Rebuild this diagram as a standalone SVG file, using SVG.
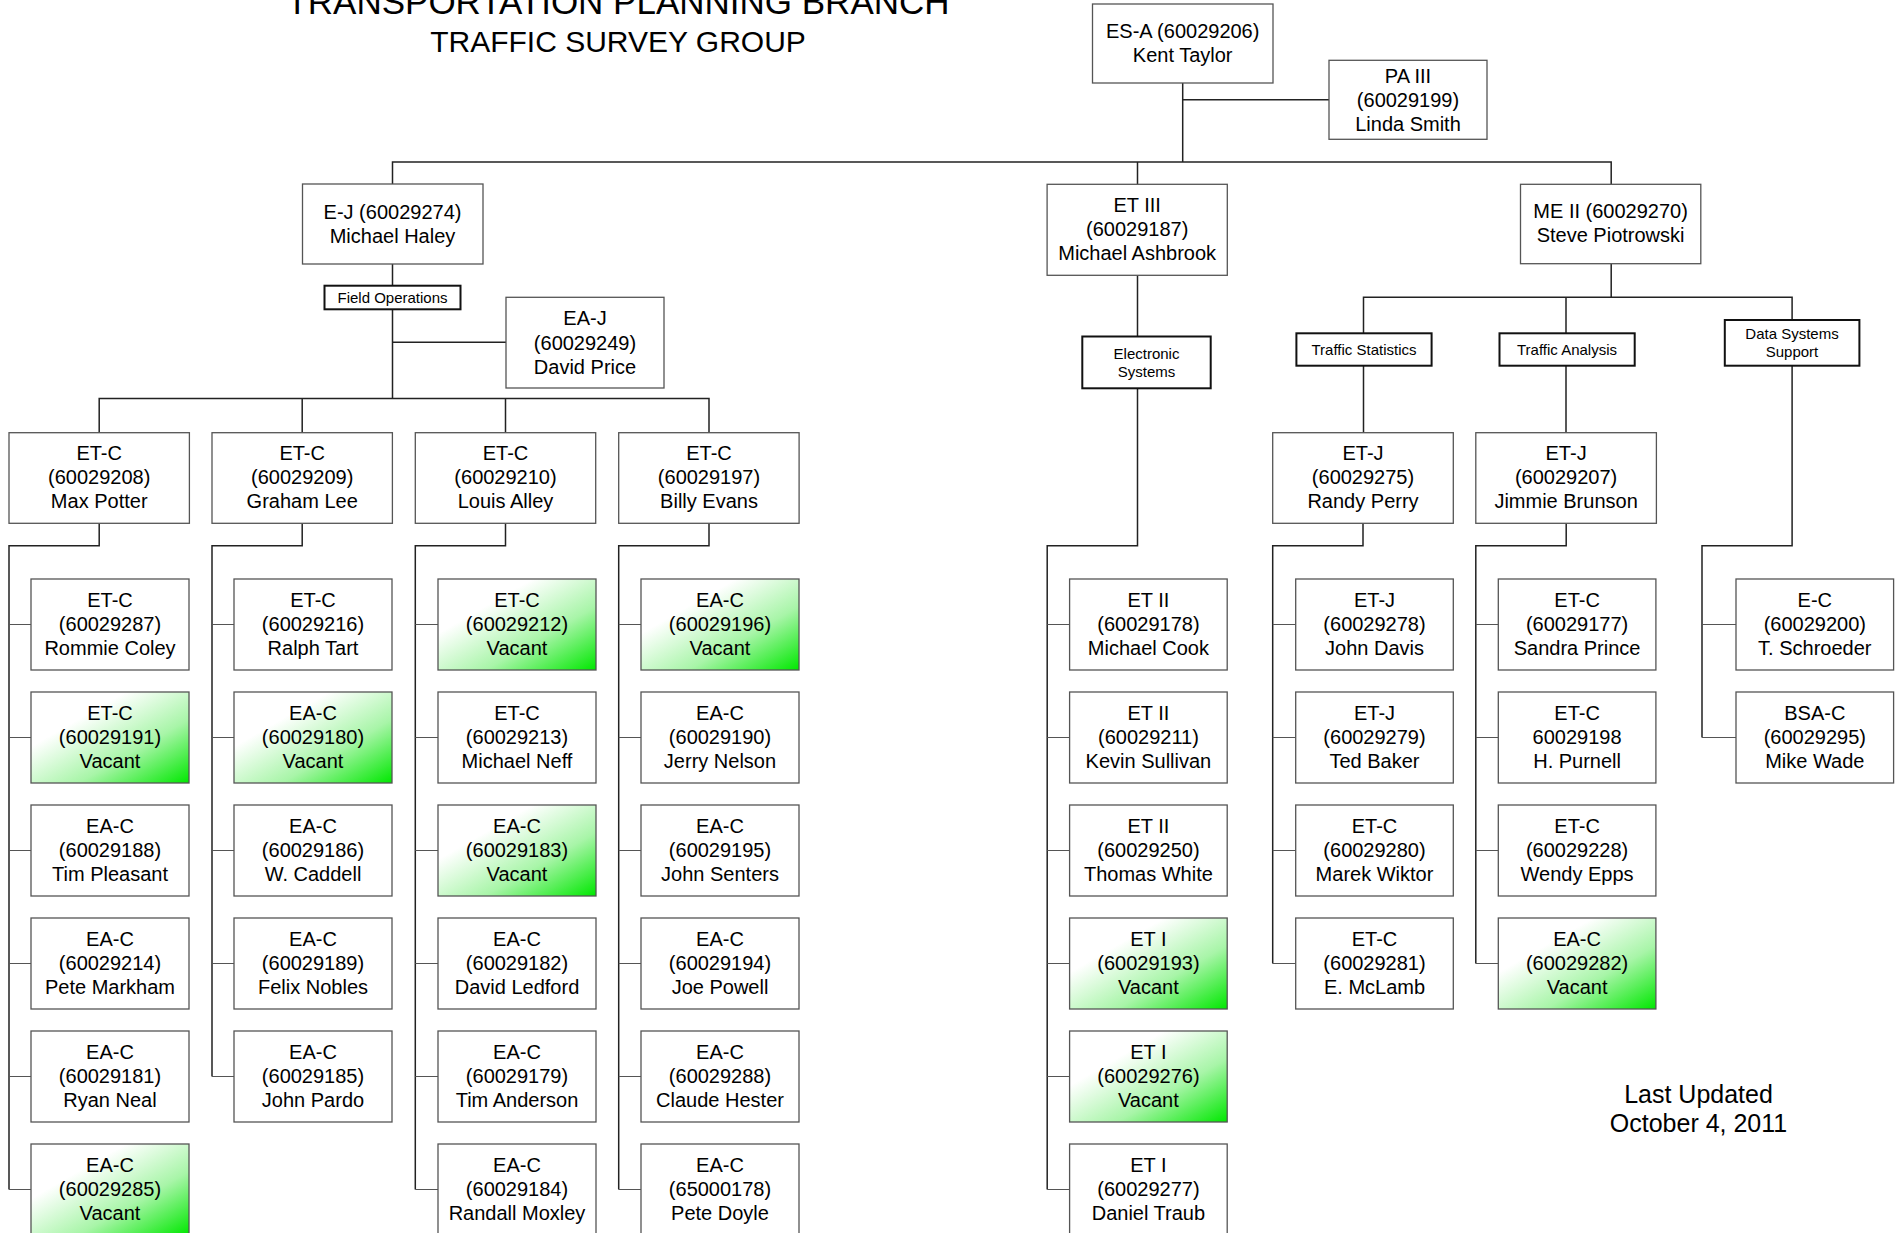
<svg xmlns="http://www.w3.org/2000/svg" width="1902" height="1233" viewBox="0 0 1902 1233">
<defs>
<linearGradient id="g" x1="0" y1="0" x2="1" y2="1">
<stop offset="0" stop-color="#ffffff"/>
<stop offset="0.3" stop-color="#ffffff"/>
<stop offset="0.65" stop-color="#a8f5a8"/>
<stop offset="1" stop-color="#00e800"/>
</linearGradient>
</defs>
<style>
text{font-family:"Liberation Sans",Arial,sans-serif;font-size:20px;text-anchor:middle;fill:#000}
.sm{font-size:15px}
.b{fill:#fff;stroke:#555;stroke-width:1.3}
.v{fill:url(#g);stroke:#555;stroke-width:1.3}
.h{fill:#fff;stroke:#111;stroke-width:2}
.c{fill:none;stroke:#222;stroke-width:1.5}
.t{fill:none;stroke:#555;stroke-width:1.2}
</style>
<rect width="1902" height="1233" fill="#fff"/>
<g id="title">
<text x="618" y="14" style="font-size:35px">TRANSPORTATION PLANNING BRANCH</text>
<text x="618" y="52" style="font-size:30px">TRAFFIC SURVEY GROUP</text>
</g>
<g id="connectors">
<path class="c" d="M1182.7 83V162M392.5 184V162H1611.2V184.3M1137.5 162V184.3"/>
<path class="c" d="M1182.7 99.7H1329"/>
<path class="c" d="M392.5 264V285.7M392.5 309.3V398.5M392.5 342.3H506"/>
<path class="c" d="M99.2 432.7V398.5H709V432.7M302.2 398.5V432.7M505.5 398.5V432.7"/>
<path class="c" d="M99.2 523.3V545.7H9V1189.5"/>
<path class="t" d="M9 624.5H31M9 737.5H31M9 850.5H31M9 963.5H31M9 1076.5H31M9 1189.5H31"/>
<path class="c" d="M302.2 523.3V545.7H212V1076.5"/>
<path class="t" d="M212 624.5H234M212 737.5H234M212 850.5H234M212 963.5H234M212 1076.5H234"/>
<path class="c" d="M505.5 523.3V545.7H415.3V1189.5"/>
<path class="t" d="M415.3 624.5H438M415.3 737.5H438M415.3 850.5H438M415.3 963.5H438M415.3 1076.5H438M415.3 1189.5H438"/>
<path class="c" d="M709 523.3V545.7H618.7V1189.5"/>
<path class="t" d="M618.7 624.5H641M618.7 737.5H641M618.7 850.5H641M618.7 963.5H641M618.7 1076.5H641M618.7 1189.5H641"/>
<path class="c" d="M1137.5 275.3V336.7M1137.5 388.3V545.7H1047.2V1189.5"/>
<path class="t" d="M1047.2 624.5H1069.6M1047.2 737.5H1069.6M1047.2 850.5H1069.6M1047.2 963.5H1069.6M1047.2 1076.5H1069.6M1047.2 1189.5H1069.6"/>
<path class="c" d="M1611.2 263.7V297.3M1363.5 333.3V297.3H1792.1V320M1566 297.3V333.3"/>
<path class="c" d="M1363.5 365.7V432.7M1566 365.7V432.7"/>
<path class="c" d="M1363 523.3V545.7H1272.7V963.5"/>
<path class="t" d="M1272.7 624.5H1295.7M1272.7 737.5H1295.7M1272.7 850.5H1295.7M1272.7 963.5H1295.7"/>
<path class="c" d="M1566.2 523.3V545.7H1475.8V963.5"/>
<path class="t" d="M1475.8 624.5H1498.3M1475.8 737.5H1498.3M1475.8 850.5H1498.3M1475.8 963.5H1498.3"/>
<path class="c" d="M1792.1 365.7V545.7H1702V737.5"/>
<path class="t" d="M1702 624.5H1736M1702 737.5H1736"/>
</g>
<g id="n-esa"><rect class="b" x="1092.5" y="4" width="180.5" height="79"/><text x="1182.7" y="38">ES-A (60029206)</text><text x="1182.7" y="61.5">Kent Taylor</text></g>
<g id="n-pa3"><rect class="b" x="1329" y="60.3" width="158" height="79"/><text x="1408" y="82.5">PA III</text><text x="1408" y="106.5">(60029199)</text><text x="1408" y="130.5">Linda Smith</text></g>
<g id="n-ej"><rect class="b" x="302.5" y="184" width="180.5" height="80"/><text x="392.5" y="218.5">E-J (60029274)</text><text x="392.5" y="242.5">Michael Haley</text></g>
<g id="n-et3"><rect class="b" x="1047.1" y="184.3" width="180.2" height="91"/><text x="1137.2" y="212">ET III</text><text x="1137.2" y="236">(60029187)</text><text x="1137.2" y="260">Michael Ashbrook</text></g>
<g id="n-me2"><rect class="b" x="1520.5" y="184.3" width="180.3" height="79.4"/><text x="1610.6" y="218">ME II (60029270)</text><text x="1610.6" y="242">Steve Piotrowski</text></g>
<g id="n-fieldops"><rect class="h" x="324.5" y="285.7" width="136" height="23.6"/><text class="sm" x="392.5" y="303">Field Operations</text></g>
<g id="n-eaj"><rect class="b" x="506" y="297.3" width="158" height="90.7"/><text x="585" y="325">EA-J</text><text x="585" y="349.5">(60029249)</text><text x="585" y="374">David Price</text></g>
<g id="n-elec"><rect class="h" x="1082.3" y="336.5" width="128.4" height="51.8"/><text class="sm" x="1146.5" y="358.5">Electronic</text><text class="sm" x="1146.5" y="376.5">Systems</text></g>
<g id="n-tstat"><rect class="h" x="1296.4" y="333.3" width="135.2" height="32.4"/><text class="sm" x="1364" y="354.5">Traffic Statistics</text></g>
<g id="n-tana"><rect class="h" x="1499.5" y="333.3" width="135.2" height="32.4"/><text class="sm" x="1567" y="354.5">Traffic Analysis</text></g>
<g id="n-dss"><rect class="h" x="1724.8" y="320" width="134.6" height="45.7"/><text class="sm" x="1792" y="338.5">Data Systems</text><text class="sm" x="1792" y="356.5">Support</text></g>
<g id="n-etc208"><rect class="b" x="9" y="432.7" width="180.4" height="90.6"/><text x="99.2" y="459.5">ET-C</text><text x="99.2" y="483.5">(60029208)</text><text x="99.2" y="508">Max Potter</text></g>
<g id="n-etc209"><rect class="b" x="212" y="432.7" width="180.4" height="90.6"/><text x="302.2" y="459.5">ET-C</text><text x="302.2" y="483.5">(60029209)</text><text x="302.2" y="508">Graham Lee</text></g>
<g id="n-etc210"><rect class="b" x="415.3" y="432.7" width="180.4" height="90.6"/><text x="505.5" y="459.5">ET-C</text><text x="505.5" y="483.5">(60029210)</text><text x="505.5" y="508">Louis Alley</text></g>
<g id="n-etc197"><rect class="b" x="618.7" y="432.7" width="180.4" height="90.6"/><text x="709" y="459.5">ET-C</text><text x="709" y="483.5">(60029197)</text><text x="709" y="508">Billy Evans</text></g>
<g id="n-etj275"><rect class="b" x="1272.7" y="432.7" width="180.6" height="90.6"/><text x="1363" y="459.5">ET-J</text><text x="1363" y="483.5">(60029275)</text><text x="1363" y="508">Randy Perry</text></g>
<g id="n-etj207"><rect class="b" x="1475.8" y="432.7" width="180.6" height="90.6"/><text x="1566.1" y="459.5">ET-J</text><text x="1566.1" y="483.5">(60029207)</text><text x="1566.1" y="508">Jimmie Brunson</text></g>
<g id="c1-0"><rect class="b" x="31" y="579" width="158" height="91"/><text x="110" y="607">ET-C</text><text x="110" y="631">(60029287)</text><text x="110" y="655">Rommie Coley</text></g>
<g id="c1-1"><rect class="v" x="31" y="692" width="158" height="91"/><text x="110" y="720">ET-C</text><text x="110" y="744">(60029191)</text><text x="110" y="768">Vacant</text></g>
<g id="c1-2"><rect class="b" x="31" y="805" width="158" height="91"/><text x="110" y="833">EA-C</text><text x="110" y="857">(60029188)</text><text x="110" y="881">Tim Pleasant</text></g>
<g id="c1-3"><rect class="b" x="31" y="918" width="158" height="91"/><text x="110" y="946">EA-C</text><text x="110" y="970">(60029214)</text><text x="110" y="994">Pete Markham</text></g>
<g id="c1-4"><rect class="b" x="31" y="1031" width="158" height="91"/><text x="110" y="1059">EA-C</text><text x="110" y="1083">(60029181)</text><text x="110" y="1107">Ryan Neal</text></g>
<g id="c1-5"><rect class="v" x="31" y="1144" width="158" height="91"/><text x="110" y="1172">EA-C</text><text x="110" y="1196">(60029285)</text><text x="110" y="1220">Vacant</text></g>
<g id="c2-0"><rect class="b" x="234" y="579" width="158" height="91"/><text x="313" y="607">ET-C</text><text x="313" y="631">(60029216)</text><text x="313" y="655">Ralph Tart</text></g>
<g id="c2-1"><rect class="v" x="234" y="692" width="158" height="91"/><text x="313" y="720">EA-C</text><text x="313" y="744">(60029180)</text><text x="313" y="768">Vacant</text></g>
<g id="c2-2"><rect class="b" x="234" y="805" width="158" height="91"/><text x="313" y="833">EA-C</text><text x="313" y="857">(60029186)</text><text x="313" y="881">W. Caddell</text></g>
<g id="c2-3"><rect class="b" x="234" y="918" width="158" height="91"/><text x="313" y="946">EA-C</text><text x="313" y="970">(60029189)</text><text x="313" y="994">Felix Nobles</text></g>
<g id="c2-4"><rect class="b" x="234" y="1031" width="158" height="91"/><text x="313" y="1059">EA-C</text><text x="313" y="1083">(60029185)</text><text x="313" y="1107">John Pardo</text></g>
<g id="c3-0"><rect class="v" x="438" y="579" width="158" height="91"/><text x="517" y="607">ET-C</text><text x="517" y="631">(60029212)</text><text x="517" y="655">Vacant</text></g>
<g id="c3-1"><rect class="b" x="438" y="692" width="158" height="91"/><text x="517" y="720">ET-C</text><text x="517" y="744">(60029213)</text><text x="517" y="768">Michael Neff</text></g>
<g id="c3-2"><rect class="v" x="438" y="805" width="158" height="91"/><text x="517" y="833">EA-C</text><text x="517" y="857">(60029183)</text><text x="517" y="881">Vacant</text></g>
<g id="c3-3"><rect class="b" x="438" y="918" width="158" height="91"/><text x="517" y="946">EA-C</text><text x="517" y="970">(60029182)</text><text x="517" y="994">David Ledford</text></g>
<g id="c3-4"><rect class="b" x="438" y="1031" width="158" height="91"/><text x="517" y="1059">EA-C</text><text x="517" y="1083">(60029179)</text><text x="517" y="1107">Tim Anderson</text></g>
<g id="c3-5"><rect class="b" x="438" y="1144" width="158" height="91"/><text x="517" y="1172">EA-C</text><text x="517" y="1196">(60029184)</text><text x="517" y="1220">Randall Moxley</text></g>
<g id="c4-0"><rect class="v" x="641" y="579" width="158" height="91"/><text x="720" y="607">EA-C</text><text x="720" y="631">(60029196)</text><text x="720" y="655">Vacant</text></g>
<g id="c4-1"><rect class="b" x="641" y="692" width="158" height="91"/><text x="720" y="720">EA-C</text><text x="720" y="744">(60029190)</text><text x="720" y="768">Jerry Nelson</text></g>
<g id="c4-2"><rect class="b" x="641" y="805" width="158" height="91"/><text x="720" y="833">EA-C</text><text x="720" y="857">(60029195)</text><text x="720" y="881">John Senters</text></g>
<g id="c4-3"><rect class="b" x="641" y="918" width="158" height="91"/><text x="720" y="946">EA-C</text><text x="720" y="970">(60029194)</text><text x="720" y="994">Joe Powell</text></g>
<g id="c4-4"><rect class="b" x="641" y="1031" width="158" height="91"/><text x="720" y="1059">EA-C</text><text x="720" y="1083">(60029288)</text><text x="720" y="1107">Claude Hester</text></g>
<g id="c4-5"><rect class="b" x="641" y="1144" width="158" height="91"/><text x="720" y="1172">EA-C</text><text x="720" y="1196">(65000178)</text><text x="720" y="1220">Pete Doyle</text></g>
<g id="c5-0"><rect class="b" x="1069.6" y="579" width="157.6" height="91"/><text x="1148.4" y="607">ET II</text><text x="1148.4" y="631">(60029178)</text><text x="1148.4" y="655">Michael Cook</text></g>
<g id="c5-1"><rect class="b" x="1069.6" y="692" width="157.6" height="91"/><text x="1148.4" y="720">ET II</text><text x="1148.4" y="744">(60029211)</text><text x="1148.4" y="768">Kevin Sullivan</text></g>
<g id="c5-2"><rect class="b" x="1069.6" y="805" width="157.6" height="91"/><text x="1148.4" y="833">ET II</text><text x="1148.4" y="857">(60029250)</text><text x="1148.4" y="881">Thomas White</text></g>
<g id="c5-3"><rect class="v" x="1069.6" y="918" width="157.6" height="91"/><text x="1148.4" y="946">ET I</text><text x="1148.4" y="970">(60029193)</text><text x="1148.4" y="994">Vacant</text></g>
<g id="c5-4"><rect class="v" x="1069.6" y="1031" width="157.6" height="91"/><text x="1148.4" y="1059">ET I</text><text x="1148.4" y="1083">(60029276)</text><text x="1148.4" y="1107">Vacant</text></g>
<g id="c5-5"><rect class="b" x="1069.6" y="1144" width="157.6" height="91"/><text x="1148.4" y="1172">ET I</text><text x="1148.4" y="1196">(60029277)</text><text x="1148.4" y="1220">Daniel Traub</text></g>
<g id="c6-0"><rect class="b" x="1295.7" y="579" width="157.6" height="91"/><text x="1374.5" y="607">ET-J</text><text x="1374.5" y="631">(60029278)</text><text x="1374.5" y="655">John Davis</text></g>
<g id="c6-1"><rect class="b" x="1295.7" y="692" width="157.6" height="91"/><text x="1374.5" y="720">ET-J</text><text x="1374.5" y="744">(60029279)</text><text x="1374.5" y="768">Ted Baker</text></g>
<g id="c6-2"><rect class="b" x="1295.7" y="805" width="157.6" height="91"/><text x="1374.5" y="833">ET-C</text><text x="1374.5" y="857">(60029280)</text><text x="1374.5" y="881">Marek Wiktor</text></g>
<g id="c6-3"><rect class="b" x="1295.7" y="918" width="157.6" height="91"/><text x="1374.5" y="946">ET-C</text><text x="1374.5" y="970">(60029281)</text><text x="1374.5" y="994">E. McLamb</text></g>
<g id="c7-0"><rect class="b" x="1498.3" y="579" width="157.6" height="91"/><text x="1577.1" y="607">ET-C</text><text x="1577.1" y="631">(60029177)</text><text x="1577.1" y="655">Sandra Prince</text></g>
<g id="c7-1"><rect class="b" x="1498.3" y="692" width="157.6" height="91"/><text x="1577.1" y="720">ET-C</text><text x="1577.1" y="744">60029198</text><text x="1577.1" y="768">H. Purnell</text></g>
<g id="c7-2"><rect class="b" x="1498.3" y="805" width="157.6" height="91"/><text x="1577.1" y="833">ET-C</text><text x="1577.1" y="857">(60029228)</text><text x="1577.1" y="881">Wendy Epps</text></g>
<g id="c7-3"><rect class="v" x="1498.3" y="918" width="157.6" height="91"/><text x="1577.1" y="946">EA-C</text><text x="1577.1" y="970">(60029282)</text><text x="1577.1" y="994">Vacant</text></g>
<g id="c8-0"><rect class="b" x="1736" y="579" width="157.6" height="91"/><text x="1814.8" y="607">E-C</text><text x="1814.8" y="631">(60029200)</text><text x="1814.8" y="655">T. Schroeder</text></g>
<g id="c8-1"><rect class="b" x="1736" y="692" width="157.6" height="91"/><text x="1814.8" y="720">BSA-C</text><text x="1814.8" y="744">(60029295)</text><text x="1814.8" y="768">Mike Wade</text></g>
<g id="updated">
<text x="1698.5" y="1102.7" style="font-size:25px">Last Updated</text>
<text x="1698.5" y="1131.7" style="font-size:25px">October 4, 2011</text>
</g>
</svg>
